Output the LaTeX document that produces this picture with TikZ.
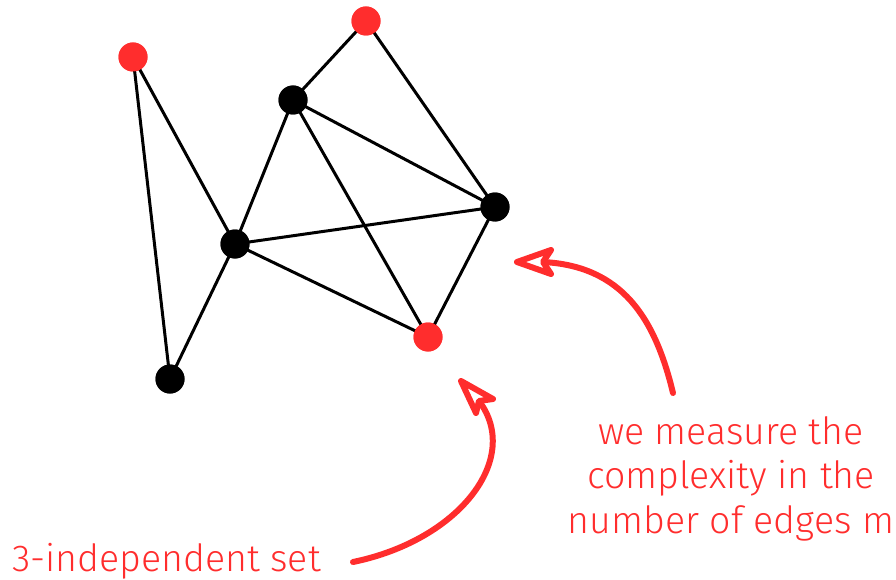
\documentclass[tikz,border=0pt]{standalone}
\usepackage{fontspec}
\setmainfont{Fira Sans Light}
\definecolor{hred}{RGB}{255,45,45}
\tikzset{
  vtx/.style={circle, fill=black, inner sep=0pt, minimum size=29pt},
  setvtx/.style={vtx, fill=hred},
  edge/.style={line width=3pt, black},
  note/.style={text=hred, font=\fontsize{37.5}{44.5}\selectfont, inner sep=0pt},
  pointer/.style={draw=hred, line width=6pt, line cap=round, line join=round},
  pointhead/.style={pointer, fill=white},
}
\begin{document}
\begin{tikzpicture}[x=1pt, y=-1pt]
  \useasboundingbox (0,0) rectangle (896,580);

  % vertices
  \node[setvtx] (r1) at (133,57) {};
  \node[setvtx] (r2) at (366,21) {};
  \node[setvtx] (r3) at (428,337) {};
  \node[vtx] (b1) at (293,100) {};
  \node[vtx] (b2) at (235,244) {};
  \node[vtx] (b3) at (495,207) {};
  \node[vtx] (b4) at (170,379) {};

  % edges
  \draw[edge] (r1.center) -- (b4.center);
  \draw[edge] (r1.center) -- (b2.center);
  \draw[edge] (b2.center) -- (b4.center);
  \draw[edge] (b2.center) -- (b1.center);
  \draw[edge] (b2.center) -- (b3.center);
  \draw[edge] (b2.center) -- (r3.center);
  \draw[edge] (b1.center) -- (r2.center);
  \draw[edge] (b1.center) -- (b3.center);
  \draw[edge] (b1.center) -- (r3.center);
  \draw[edge] (r2.center) -- (b3.center);
  \draw[edge] (b3.center) -- (r3.center);

  % redraw vertices above the edges
  \node[setvtx] at (r1) {};
  \node[setvtx] at (r2) {};
  \node[setvtx] at (r3) {};
  \node[vtx] at (b1) {};
  \node[vtx] at (b2) {};
  \node[vtx] at (b3) {};
  \node[vtx] at (b4) {};

  % annotations
  \node[note, align=center, anchor=base] (cx) at (731,533)
    {we measure the\\complexity in the\\number of edges m};
  \node[note, anchor=base west] (ind) at (12,571) {3-independent set};

  % hand-drawn pointers: curved shaft ending in an open notched head
  \coordinate (cxs) at (673,393);
  \coordinate (cxn) at (543,262);
  \coordinate (cxt) at (517,262);
  \draw[pointer] (cxs) .. controls (655,318) and (622,266) .. (cxn);
  \draw[pointhead] (cxt) -- (551,250) -- (cxn) -- (551,274) -- cycle;

  \coordinate (inds) at (353,562);
  \coordinate (indn) at (479,401);
  \coordinate (indt) at (461,381);
  \draw[pointer] (inds) .. controls (460,540) and (522,458) .. (indn);
  \draw[pointhead] (indt) -- (493,399) -- (indn) -- (476,413) -- cycle;
\end{tikzpicture}
\end{document}
